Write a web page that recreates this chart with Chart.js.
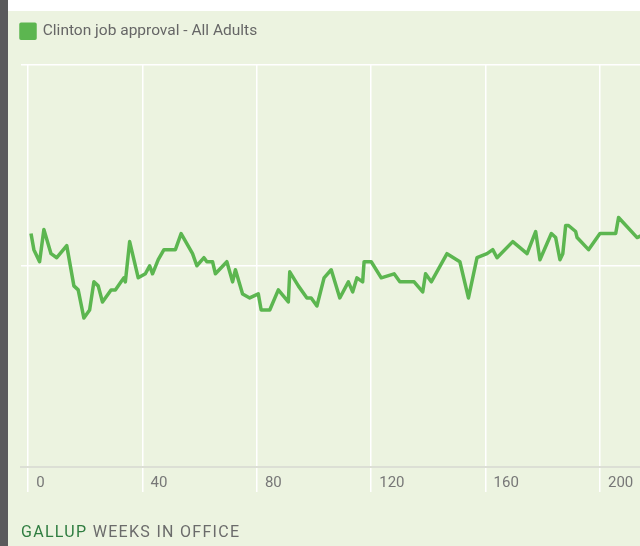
<!DOCTYPE html>
<html>
<head>
<meta charset="utf-8">
<script src="https://cdn.jsdelivr.net/npm/chart.js@4/dist/chart.umd.min.js"></script>
<style>
  html, body { margin: 0; padding: 0; }
  body { width: 640px; height: 546px; position: relative; overflow: hidden; background: #ecf3e0; }
  #bar { position: absolute; left: 0; top: 0; width: 8px; height: 546px; background: #5a5a5c; }
  #strip { position: absolute; left: 8px; top: 0; width: 632px; height: 11px; background: #ffffff; }
  #c { position: absolute; left: 0; top: 0; }
  #footer { position: absolute; left: 21px; top: 523px; font-family: Roboto, sans-serif; font-size: 16px; line-height: 18px; letter-spacing: 1.3px; color: #6b6b6b; white-space: nowrap; }
  #footer .brand { color: #2f7d40; }
</style>
</head>
<body>
<div id="bar"></div>
<div id="strip"></div>
<canvas id="c" width="640" height="546"></canvas>
<div id="footer"><span class="brand">GALLUP</span> WEEKS IN OFFICE</div>
<script>
// Weeks in office (x) and approval % (y)
const weeks = [1, 2, 4, 5.5, 8, 10, 13.5, 16, 17.5, 19.5, 21.5, 23, 24.5, 26, 29, 30.5, 32.5, 33.5, 34, 35.5,
  38.5, 41, 42.5, 43.5, 45.5, 47.5, 51.5, 53.5, 57.5, 59, 61.5, 62.5, 64.5, 65.5, 69.5, 71.5, 72.5, 75, 77.5, 80.5,
  81.5, 84.5, 87.5, 91, 91.5, 94.5, 97.5, 99, 101, 103.5, 106, 109, 112, 113.5, 115, 117, 117.5, 120, 123.5, 128,
  130, 135, 138, 139, 141, 146.5, 151, 154, 157, 160.5, 162.5, 164, 169.5, 174.5, 177.5, 179, 183, 184.5, 186, 187,
  188, 189, 191.5, 192, 196, 200, 205.5, 206.5, 213, 216];
const approval = [58, 54, 51, 59, 53, 52, 55, 45, 44, 37, 39, 46, 45, 41, 44, 44, 46, 47, 46, 56,
  47, 48, 50, 48, 51.5, 54, 54, 58, 53, 50, 52, 51, 51, 48, 51, 46, 49, 43, 42, 43,
  39, 39, 44, 41, 48.5, 45, 42, 42, 40, 47, 49, 42, 46, 43.5, 47, 46, 51, 51, 47, 48,
  46, 46, 43.5, 48, 46, 53, 51, 42, 52, 53, 54, 52, 56, 53, 58.5, 51.5, 58, 57, 51.5, 53,
  60, 60, 58.5, 57, 54, 58, 58, 62, 57, 58];
const xTicks = [0, 40, 80, 120, 160, 200];
const yTicks = [0, 50, 100];
const seriesLabel = 'Clinton job approval - All Adults';

const GREEN = '#5cb650';
const FONT = 'Roboto';

const legendGap = {
  id: 'legendGap',
  beforeInit(chart) {
    const lg = chart.legend;
    if (!lg) return;
    const orig = lg.fit;
    lg.fit = function () { orig.call(this); this.height += 15.5; };
  }
};

new Chart(document.getElementById('c'), {
  type: 'line',
  data: {
    datasets: [{
      label: seriesLabel,
      data: weeks.map((w, i) => ({ x: w, y: approval[i] })),
      borderColor: GREEN,
      backgroundColor: GREEN,
      borderWidth: 3.5,
      pointRadius: 0,
      tension: 0,
      fill: false,
      borderJoinStyle: 'round'
    }]
  },
  options: {
    responsive: false,
    animation: false,
    layout: { padding: { left: 13, right: 0, top: 15.5, bottom: 39 } },
    plugins: {
      legend: {
        display: true,
        position: 'top',
        align: 'start',
        labels: {
          boxWidth: 14, boxHeight: 14, padding: 8,
          color: '#666666',
          font: { family: FONT, size: 15.5 }
        }
      },
      tooltip: { enabled: false }
    },
    scales: {
      x: {
        type: 'linear',
        min: -2.5,
        max: 214,
        afterBuildTicks: s => { s.ticks = xTicks.map(v => ({ value: v })); },
        afterFit: s => { s.height = 40; },
        grid: { color: '#ffffff', lineWidth: 1.5, drawTicks: true, tickLength: 25, tickColor: '#ffffff' },
        border: { display: true, color: '#dcdfd5', width: 2 },
        ticks: {
          align: 'start', labelOffset: 8, padding: -18, maxRotation: 0, autoSkip: false,
          color: '#777777', font: { family: FONT, size: 15 }
        }
      },
      y: {
        min: 0,
        max: 100,
        afterBuildTicks: s => { s.ticks = yTicks.map(v => ({ value: v })); },
        afterFit: s => { s.width = 8; },
        grid: {
          color: ctx => (ctx.tick && ctx.tick.value === 0) ? 'rgba(0,0,0,0)' : '#ffffff',
          lineWidth: 1.5, drawTicks: false
        },
        border: { display: false },
        ticks: { display: false }
      }
    }
  },
  plugins: [legendGap]
});
</script>
</body>
</html>
